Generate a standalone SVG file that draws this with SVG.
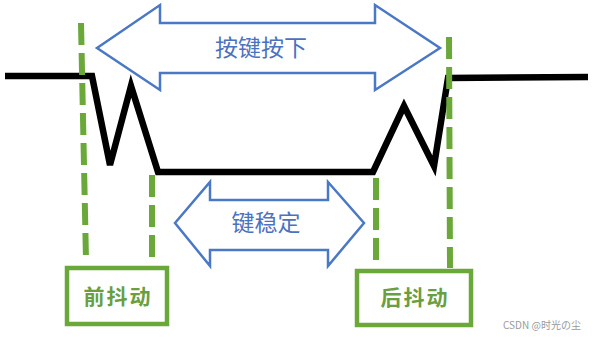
<svg xmlns="http://www.w3.org/2000/svg" width="593" height="337" viewBox="0 0 593 337">
<style>
.arrow{fill:#ffffff;stroke:#4a78c6;stroke-width:2.5;stroke-linejoin:miter}
.alabel{font-family:"Noto Sans CJK SC","Liberation Sans",sans-serif;font-size:23px;fill:#4a72c0;text-anchor:middle}
.dash{stroke:#6aa83a;stroke-width:6;stroke-dasharray:22 8;fill:none}
.box{fill:#ffffff;stroke:#6aa83a;stroke-width:4.5}
.blabel{font-family:"Noto Sans CJK SC","Liberation Sans",sans-serif;font-size:21px;font-weight:bold;fill:#6a9e3e;text-anchor:middle;letter-spacing:2px}
.signal{fill:none;stroke:#000000;stroke-width:6.5;stroke-linejoin:miter}
</style>
<rect width="593" height="337" fill="#ffffff"/>
<g id="arrow-press">
<polygon class="arrow" points="97,48 160,5 160,23 375,23 375,5 440,48 375,90 375,73 160,73 160,90"/>
<text class="alabel" x="261" y="56">按键按下</text>
</g>
<g id="signal">
<polyline class="signal" points="5,76 92,76 110,165 131,86 158,172 373,172 404,106 434,166 448,78 588,77"/>
</g>
<g id="connectors">
<line class="dash" x1="81" y1="23" x2="86" y2="260"/>
<line class="dash" x1="152" y1="175" x2="152" y2="260"/>
<line class="dash" x1="376" y1="178" x2="376" y2="260"/>
<line class="dash" x1="449" y1="37" x2="450" y2="268"/>
</g>
<g id="arrow-stable">
<polygon class="arrow" points="175,223 210,182 210,200 328,200 328,182 364,223 328,266 328,250 210,250 210,266"/>
<text class="alabel" x="266" y="231">键稳定</text>
</g>
<g id="box-front">
<rect class="box" x="67" y="268" width="100" height="56"/>
<text class="blabel" x="118" y="304">前抖动</text>
</g>
<g id="box-back">
<rect class="box" x="357" y="271" width="114" height="54"/>
<text class="blabel" x="415" y="305">后抖动</text>
</g>
<text x="503" y="329" font-family="Noto Sans CJK SC,Liberation Sans,sans-serif" font-size="10" fill="#9a9a9a">CSDN @时光の尘</text>
</svg>
